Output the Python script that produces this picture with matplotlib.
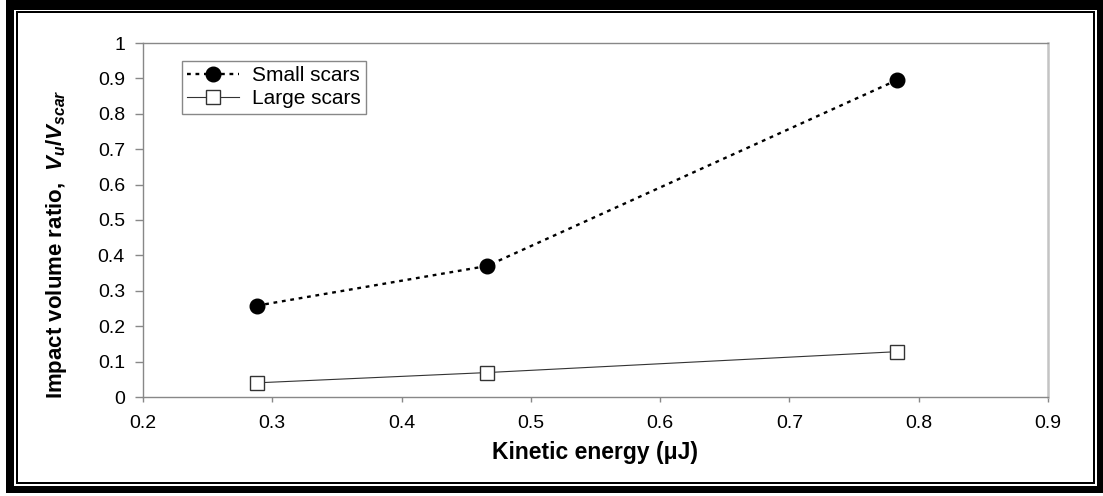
import matplotlib
matplotlib.use('Agg')
import matplotlib.pyplot as plt
from matplotlib.patches import Rectangle

# Data
kinetic_energy = [0.288, 0.466, 0.783]
small_scars = [0.258, 0.370, 0.895]
large_scars = [0.040, 0.069, 0.128]

x_ticks = [0.2, 0.3, 0.4, 0.5, 0.6, 0.7, 0.8, 0.9]
y_ticks = [0, 0.1, 0.2, 0.3, 0.4, 0.5, 0.6, 0.7, 0.8, 0.9, 1]

plt.rcParams['font.family'] = ['Liberation Sans', 'DejaVu Sans']
plt.rcParams['mathtext.fontset'] = 'custom'
plt.rcParams['mathtext.it'] = 'Liberation Sans:italic:bold'
plt.rcParams['mathtext.rm'] = 'Liberation Sans:bold'

W, H = 1103, 496
fig = plt.figure(figsize=(W / 100, H / 100), dpi=100)
fig.patch.set_facecolor('white')


def px_rect(x0, y0, x1, y1, color):
    # pixel box measured from the top-left corner -> figure fraction
    r = Rectangle((x0 / W, 1 - y1 / H), (x1 - x0) / W, (y1 - y0) / H,
                  transform=fig.transFigure, facecolor=color,
                  edgecolor='none', zorder=-10)
    fig.patches.append(r)


# double black frame around the picture
px_rect(6, 0, 1103, 493, 'black')
px_rect(14, 10, 1097, 486, 'white')
px_rect(16, 11, 1095, 484, 'black')
px_rect(18, 13, 1093, 482, 'white')

ax = fig.add_axes([143 / W, 1 - 397 / H, 905 / W, 354 / H])
ax.set_facecolor('white')

ax.plot(kinetic_energy, small_scars, color='black', lw=1.7,
        linestyle=(0, (1.6, 2.0)), marker='o', markersize=10.5,
        markerfacecolor='black', markeredgecolor='black', label='Small scars')
ax.plot(kinetic_energy, large_scars, color='#333333', lw=0.8,
        linestyle='-', marker='s', markersize=9.5, markerfacecolor='white',
        markeredgecolor='#333333', markeredgewidth=1.0, label='Large scars')

ax.set_xlim(0.2, 0.9)
ax.set_ylim(0, 1)
ax.set_xticks(x_ticks)
ax.set_yticks(y_ticks)
ax.set_xticklabels([f'{t:g}' for t in x_ticks])
ax.set_yticklabels([f'{t:g}' for t in y_ticks])

for side in ['left', 'bottom', 'top']:
    ax.spines[side].set_color('#888888')
    ax.spines[side].set_linewidth(1.0)
ax.spines['right'].set_color('#c4c4c4')
ax.spines['right'].set_linewidth(1.8)

ax.tick_params(axis='y', direction='out', length=6, width=1, color='#888888',
               pad=7, labelsize=14)
ax.tick_params(axis='x', direction='out', length=3.6, width=1, color='#888888',
               pad=9, labelsize=14)

ax.set_xlabel('Kinetic energy (\u03bcJ)', fontsize=16.5, fontweight='bold',
              labelpad=7)
ax.set_ylabel(r'Impact volume ratio,  $V_u/V_{scar}$', fontsize=16,
              fontweight='bold')
ax.yaxis.set_label_coords(-0.082, 0.43)

leg = ax.legend(loc='upper left', bbox_to_anchor=(0.043, 0.949),
                borderaxespad=0, fancybox=False, framealpha=1,
                edgecolor='#888888', fontsize=15, handlelength=2.5,
                handletextpad=0.6, borderpad=0.25, labelspacing=0.2)
leg.get_frame().set_linewidth(1.0)

fig.savefig('out.png', dpi=100)
